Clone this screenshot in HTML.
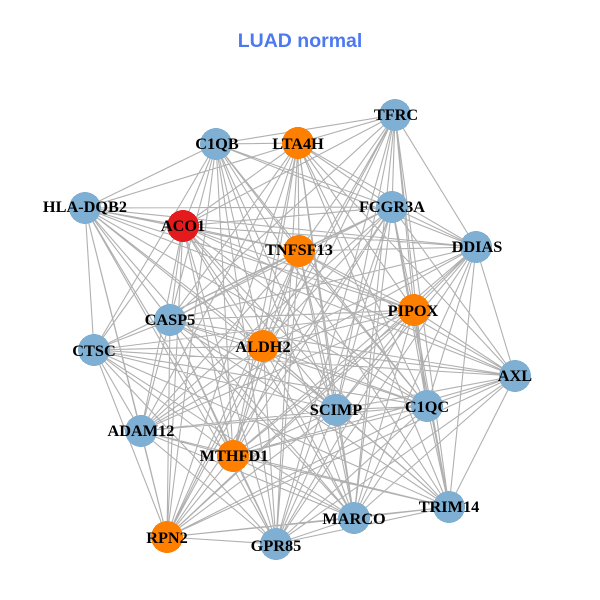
<!DOCTYPE html>
<html><head><meta charset="utf-8"><style>
html,body{margin:0;padding:0;background:#fff}
svg{display:block}
.t{font:bold 16.3px "Liberation Serif",serif;text-anchor:middle;fill:#000}
</style></head><body>
<svg width="600" height="600" viewBox="0 0 600 600" xmlns="http://www.w3.org/2000/svg">
<rect width="600" height="600" fill="#fff"/>
<text x="300" y="47" text-anchor="middle" style="font:bold 19.5px 'Liberation Sans',sans-serif" fill="#4D79F0">LUAD normal</text>
<path fill="none" stroke="#b0b0b0" stroke-width="1.1" d="
M395 115L298 143M395 115L216 144M395 115L183 226M395 115L392 207M395 115L299 251M395 115L476 247M395 115L414 310M395 115L263 346M395 115L336 410M395 115L427 406M395 115L233 456M395 115L449 507M395 115L354 518M395 115L170 320
M298 143L216 144M298 143L85 208M298 143L183 226M298 143L392 207M298 143L299 251M298 143L476 247M298 143L414 310M298 143L263 346M298 143L170 320M298 143L336 410M298 143L427 406M298 143L233 456M298 143L449 507M298 143L354 518M298 143L276 544M298 143L515 376M298 143L141 431
M216 144L85 208M216 144L183 226M216 144L392 207M216 144L299 251M216 144L476 247M216 144L170 320M216 144L94 350M216 144L263 346M216 144L336 410M216 144L427 406M216 144L141 431M216 144L233 456M216 144L449 507M216 144L354 518
M85 208L183 226M85 208L392 207M85 208L299 251M85 208L476 247M85 208L170 320M85 208L94 350M85 208L263 346M85 208L336 410M85 208L427 406M85 208L141 431M85 208L233 456M85 208L167 537M85 208L354 518M85 208L414 310
M183 226L392 207M183 226L299 251M183 226L476 247M183 226L414 310M183 226L170 320M183 226L94 350M183 226L263 346M183 226L336 410M183 226L427 406M183 226L141 431M183 226L233 456M183 226L167 537M183 226L276 544M183 226L449 507M183 226L515 376
M392 207L299 251M392 207L476 247M392 207L414 310M392 207L170 320M392 207L94 350M392 207L263 346M392 207L336 410M392 207L427 406M392 207L141 431M392 207L233 456M392 207L449 507M392 207L354 518M392 207L167 537M392 207L276 544M392 207L515 376
M299 251L476 247M299 251L170 320M299 251L94 350M299 251L263 346M299 251L336 410M299 251L141 431M299 251L233 456M299 251L354 518M299 251L167 537M299 251L276 544M299 251L414 310M299 251L515 376M299 251L427 406
M476 247L414 310M476 247L263 346M476 247L336 410M476 247L427 406M476 247L170 320M476 247L515 376M476 247L141 431M476 247L233 456M476 247L449 507M476 247L354 518M476 247L276 544
M414 310L170 320M414 310L94 350M414 310L263 346M414 310L336 410M414 310L427 406M414 310L515 376M414 310L141 431M414 310L233 456M414 310L449 507M414 310L354 518M414 310L167 537M414 310L276 544
M170 320L94 350M170 320L263 346M170 320L336 410M170 320L427 406M170 320L141 431M170 320L233 456M170 320L354 518M170 320L167 537M170 320L276 544M170 320L449 507M170 320L515 376
M94 350L263 346M94 350L336 410M94 350L427 406M94 350L141 431M94 350L233 456M94 350L167 537M94 350L276 544M94 350L515 376M94 350L354 518
M263 346L515 376M263 346L336 410M263 346L427 406M263 346L141 431M263 346L233 456M263 346L449 507M263 346L354 518M263 346L167 537M263 346L276 544
M515 376L336 410M515 376L427 406M515 376L233 456M515 376L449 507M515 376L354 518M515 376L276 544
M336 410L427 406M336 410L141 431M336 410L233 456M336 410L449 507M336 410L354 518M336 410L167 537M336 410L276 544
M427 406L141 431M427 406L233 456M427 406L449 507M427 406L354 518M427 406L167 537M427 406L276 544
M141 431L233 456M141 431L354 518M141 431L167 537M141 431L276 544M141 431L449 507
M233 456L449 507M233 456L354 518M233 456L167 537M233 456L276 544
M449 507L354 518M449 507L276 544M449 507L167 537
M354 518L167 537M354 518L276 544
M167 537L276 544
M167 537L298 143M167 537L216 144M167 537L476 247M167 537L395 115M167 537L515 376
M276 544L216 144M276 544L395 115M276 544L85 208
M354 518L183 226M449 507L94 350M515 376L85 208"/>
<g shape-rendering="crispEdges">
<circle cx="395" cy="115" r="16" fill="#7FAFD2"/>
<circle cx="298" cy="143" r="16" fill="#FF7F00"/>
<circle cx="216" cy="144" r="16" fill="#7FAFD2"/>
<circle cx="85" cy="208" r="16" fill="#7FAFD2"/>
<circle cx="183" cy="226" r="16" fill="#E41A1C"/>
<circle cx="392" cy="207" r="16" fill="#7FAFD2"/>
<circle cx="299" cy="251" r="16" fill="#FF7F00"/>
<circle cx="476" cy="247" r="16" fill="#7FAFD2"/>
<circle cx="414" cy="310" r="16" fill="#FF7F00"/>
<circle cx="170" cy="320" r="16" fill="#7FAFD2"/>
<circle cx="94" cy="350" r="16" fill="#7FAFD2"/>
<circle cx="263" cy="346" r="16" fill="#FF7F00"/>
<circle cx="515" cy="376" r="16" fill="#7FAFD2"/>
<circle cx="336" cy="410" r="16" fill="#7FAFD2"/>
<circle cx="427" cy="406" r="16" fill="#7FAFD2"/>
<circle cx="141" cy="431" r="16" fill="#7FAFD2"/>
<circle cx="233" cy="456" r="16" fill="#FF7F00"/>
<circle cx="449" cy="507" r="16" fill="#7FAFD2"/>
<circle cx="354" cy="518" r="16" fill="#7FAFD2"/>
<circle cx="167" cy="537" r="16" fill="#FF7F00"/>
<circle cx="276" cy="544" r="16" fill="#7FAFD2"/>
</g>
<g class="lbl">
<text class="t" x="396" y="120">TFRC</text>
<text class="t" x="298" y="149">LTA4H</text>
<text class="t" x="217" y="149">C1QB</text>
<text class="t" x="85" y="212">HLA-DQB2</text>
<text class="t" x="183" y="231">ACO1</text>
<text class="t" x="392" y="212">FCGR3A</text>
<text class="t" x="299" y="255">TNFSF13</text>
<text class="t" x="477" y="252">DDIAS</text>
<text class="t" x="413" y="316">PIPOX</text>
<text class="t" x="170" y="325">CASP5</text>
<text class="t" x="94" y="356">CTSC</text>
<text class="t" x="263" y="352">ALDH2</text>
<text class="t" x="515" y="381">AXL</text>
<text class="t" x="336" y="415">SCIMP</text>
<text class="t" x="427" y="412">C1QC</text>
<text class="t" x="141" y="436">ADAM12</text>
<text class="t" x="234" y="461">MTHFD1</text>
<text class="t" x="449" y="512">TRIM14</text>
<text class="t" x="354" y="524">MARCO</text>
<text class="t" x="167" y="543">RPN2</text>
<text class="t" x="276" y="551">GPR85</text>
</g>
</svg>
</body></html>
